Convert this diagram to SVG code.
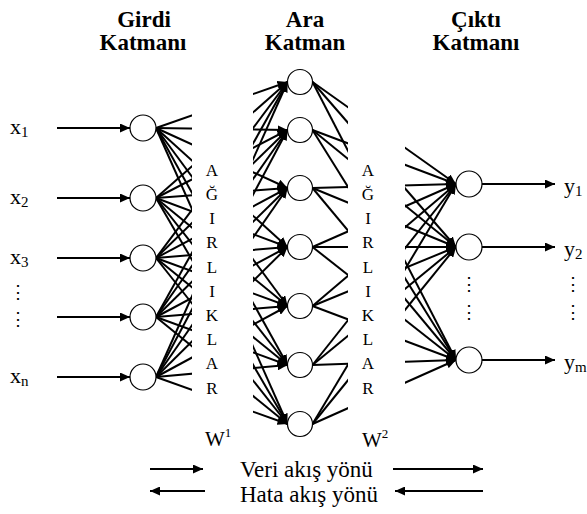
<svg xmlns="http://www.w3.org/2000/svg" width="587" height="514" viewBox="0 0 587 514">
  <style>
    text { font-family: "Liberation Serif", "Times New Roman", serif; fill: #000; }
    .title { font-size: 23px; font-weight: bold; text-anchor: middle; }
    .lbl { font-size: 22px; }
    .sub { font-size: 15px; }
    .w-letter { font-size: 17px; text-anchor: middle; }
    .wlbl { font-size: 21px; }
    .sup { font-size: 13px; }
    .note { font-size: 23px; }
    .dots { font-family: "DejaVu Serif", serif; font-size: 18px; text-anchor: middle; }
    .node { fill: #fff; stroke: #000; stroke-width: 1.2; }
    .wire { stroke: #000; stroke-width: 2; fill: none; marker-end: url(#head); }
    .edge { stroke: #000; stroke-width: 2; fill: none; }
  </style>
  <defs>
    <marker id="head" viewBox="0 0 10 9" refX="10" refY="4.5" markerWidth="10" markerHeight="9" markerUnits="userSpaceOnUse" orient="auto">
      <path d="M0,0 L10,4.5 L0,9 z" fill="#000"/>
    </marker>
    <marker id="head-start" viewBox="0 0 10 9" refX="0" refY="4.5" markerWidth="10" markerHeight="9" markerUnits="userSpaceOnUse" orient="auto">
      <path d="M10,0 L0,4.5 L10,9 z" fill="#000"/>
    </marker>
    <!-- the weight columns hide the middle part of every edge -->
    <clipPath id="cut-w1">
      <rect x="0" y="0" width="192" height="514"/>
      <rect x="253" y="0" width="47" height="514"/>
    </clipPath>
    <clipPath id="cut-w2">
      <rect x="300" y="0" width="48" height="514"/>
      <rect x="405" y="0" width="64" height="514"/>
    </clipPath>
  </defs>

  <rect width="587" height="514" fill="#fff"/>

  <!-- layer titles -->
  <g id="titles">
    <text class="title" x="144" y="27">Girdi</text>
    <text class="title" x="143" y="50">Katmanı</text>
    <text class="title" x="305" y="27">Ara</text>
    <text class="title" x="305" y="50">Katman</text>
    <text class="title" x="476" y="27">Çıktı</text>
    <text class="title" x="476" y="50">Katmanı</text>
  </g>

  <g id="connectors">
    <!-- inputs into the first layer -->
    <g id="input-arrows">
      <line class="wire" x1="57" y1="128" x2="130" y2="128"/>
      <line class="wire" x1="57" y1="198" x2="130" y2="198"/>
      <line class="wire" x1="57" y1="258" x2="130" y2="258"/>
      <line class="wire" x1="57" y1="317" x2="130" y2="317"/>
      <line class="wire" x1="57" y1="377" x2="130" y2="377"/>
    </g>
    <!-- W1: every input node to every hidden node -->
    <g id="weights-1" clip-path="url(#cut-w1)">
      <line class="wire" x1="156" y1="128" x2="287.5" y2="82"/>
      <line class="wire" x1="156" y1="128" x2="287.5" y2="130"/>
      <line class="wire" x1="156" y1="128" x2="287.5" y2="188"/>
      <line class="wire" x1="156" y1="128" x2="287.5" y2="247"/>
      <line class="wire" x1="156" y1="128" x2="287.5" y2="306"/>
      <line class="wire" x1="156" y1="128" x2="287.5" y2="365"/>
      <line class="wire" x1="156" y1="128" x2="287.5" y2="424"/>

      <line class="wire" x1="156" y1="198" x2="287.5" y2="82"/>
      <line class="wire" x1="156" y1="198" x2="287.5" y2="130"/>
      <line class="wire" x1="156" y1="198" x2="287.5" y2="188"/>
      <line class="wire" x1="156" y1="198" x2="287.5" y2="247"/>
      <line class="wire" x1="156" y1="198" x2="287.5" y2="306"/>
      <line class="wire" x1="156" y1="198" x2="287.5" y2="365"/>
      <line class="wire" x1="156" y1="198" x2="287.5" y2="424"/>

      <line class="wire" x1="156" y1="258" x2="287.5" y2="82"/>
      <line class="wire" x1="156" y1="258" x2="287.5" y2="130"/>
      <line class="wire" x1="156" y1="258" x2="287.5" y2="188"/>
      <line class="wire" x1="156" y1="258" x2="287.5" y2="247"/>
      <line class="wire" x1="156" y1="258" x2="287.5" y2="306"/>
      <line class="wire" x1="156" y1="258" x2="287.5" y2="365"/>
      <line class="wire" x1="156" y1="258" x2="287.5" y2="424"/>

      <line class="wire" x1="156" y1="317" x2="287.5" y2="82"/>
      <line class="wire" x1="156" y1="317" x2="287.5" y2="130"/>
      <line class="wire" x1="156" y1="317" x2="287.5" y2="188"/>
      <line class="wire" x1="156" y1="317" x2="287.5" y2="247"/>
      <line class="wire" x1="156" y1="317" x2="287.5" y2="306"/>
      <line class="wire" x1="156" y1="317" x2="287.5" y2="365"/>
      <line class="wire" x1="156" y1="317" x2="287.5" y2="424"/>

      <line class="wire" x1="156" y1="377" x2="287.5" y2="82"/>
      <line class="wire" x1="156" y1="377" x2="287.5" y2="130"/>
      <line class="wire" x1="156" y1="377" x2="287.5" y2="188"/>
      <line class="wire" x1="156" y1="377" x2="287.5" y2="247"/>
      <line class="wire" x1="156" y1="377" x2="287.5" y2="306"/>
      <line class="wire" x1="156" y1="377" x2="287.5" y2="365"/>
      <line class="wire" x1="156" y1="377" x2="287.5" y2="424"/>
    </g>
    <!-- W2: every hidden node to every output node -->
    <g id="weights-2" clip-path="url(#cut-w2)">
      <line class="wire" x1="312.5" y1="82" x2="456" y2="184"/>
      <line class="wire" x1="312.5" y1="82" x2="456" y2="247"/>
      <line class="wire" x1="312.5" y1="82" x2="456" y2="360"/>
      <line class="wire" x1="312.5" y1="130" x2="456" y2="184"/>
      <line class="wire" x1="312.5" y1="130" x2="456" y2="247"/>
      <line class="wire" x1="312.5" y1="130" x2="456" y2="360"/>
      <line class="wire" x1="312.5" y1="188" x2="456" y2="184"/>
      <line class="wire" x1="312.5" y1="188" x2="456" y2="247"/>
      <line class="wire" x1="312.5" y1="188" x2="456" y2="360"/>
      <line class="wire" x1="312.5" y1="247" x2="456" y2="184"/>
      <line class="wire" x1="312.5" y1="247" x2="456" y2="247"/>
      <line class="wire" x1="312.5" y1="247" x2="456" y2="360"/>
      <line class="wire" x1="312.5" y1="306" x2="456" y2="184"/>
      <line class="wire" x1="312.5" y1="306" x2="456" y2="247"/>
      <line class="wire" x1="312.5" y1="306" x2="456" y2="360"/>
      <line class="wire" x1="312.5" y1="365" x2="456" y2="184"/>
      <line class="wire" x1="312.5" y1="365" x2="456" y2="247"/>
      <line class="wire" x1="312.5" y1="365" x2="456" y2="360"/>
      <line class="wire" x1="312.5" y1="424" x2="456" y2="184"/>
      <line class="wire" x1="312.5" y1="424" x2="456" y2="247"/>
      <line class="wire" x1="312.5" y1="424" x2="456" y2="360"/>
    </g>
    <!-- outputs -->
    <g id="output-arrows">
      <line class="wire" x1="482" y1="184" x2="555" y2="184"/>
      <line class="wire" x1="482" y1="247" x2="555" y2="247"/>
      <line class="wire" x1="482" y1="360" x2="555" y2="360"/>
    </g>
  </g>

  <!-- input layer -->
  <g id="in-1"><circle class="node" cx="143" cy="128" r="13"/></g>
  <g id="in-2"><circle class="node" cx="143" cy="198" r="13"/></g>
  <g id="in-3"><circle class="node" cx="143" cy="258" r="13"/></g>
  <g id="in-4"><circle class="node" cx="143" cy="317" r="13"/></g>
  <g id="in-n"><circle class="node" cx="143" cy="377" r="13"/></g>

  <!-- hidden layer -->
  <g id="hid-1"><circle class="node" cx="300" cy="82" r="12.5"/></g>
  <g id="hid-2"><circle class="node" cx="300" cy="130" r="12.5"/></g>
  <g id="hid-3"><circle class="node" cx="300" cy="188" r="12.5"/></g>
  <g id="hid-4"><circle class="node" cx="300" cy="247" r="12.5"/></g>
  <g id="hid-5"><circle class="node" cx="300" cy="306" r="12.5"/></g>
  <g id="hid-6"><circle class="node" cx="300" cy="365" r="12.5"/></g>
  <g id="hid-7"><circle class="node" cx="300" cy="424" r="12.5"/></g>

  <!-- output layer -->
  <g id="out-1"><circle class="node" cx="469" cy="184" r="13"/></g>
  <g id="out-2"><circle class="node" cx="469" cy="247" r="13"/></g>
  <g id="out-m"><circle class="node" cx="469" cy="360" r="13"/></g>

  <!-- input / output labels -->
  <g id="io-labels">
    <text class="lbl" x="10" y="134">x<tspan class="sub" dy="3">1</tspan></text>
    <text class="lbl" x="10" y="204">x<tspan class="sub" dy="3">2</tspan></text>
    <text class="lbl" x="10" y="264">x<tspan class="sub" dy="3">3</tspan></text>
    <text class="lbl" x="10" y="383">x<tspan class="sub" dy="3">n</tspan></text>
    <text class="dots" x="18" y="298">⋮</text>
    <text class="dots" x="18" y="325">⋮</text>

    <text class="lbl" x="564" y="193">y<tspan class="sub" dy="3">1</tspan></text>
    <text class="lbl" x="564" y="256">y<tspan class="sub" dy="3">2</tspan></text>
    <text class="lbl" x="564" y="369">y<tspan class="sub" dy="3">m</tspan></text>
    <text class="dots" x="469" y="290">⋮</text>
    <text class="dots" x="469" y="318">⋮</text>
    <text class="dots" x="573" y="290">⋮</text>
    <text class="dots" x="573" y="318">⋮</text>
  </g>

  <!-- weight columns -->
  <g id="weights-1-label">
    <text class="w-letter" x="212" y="176">A</text>
    <text class="w-letter" x="212" y="200">Ğ</text>
    <text class="w-letter" x="212" y="224">I</text>
    <text class="w-letter" x="212" y="248">R</text>
    <text class="w-letter" x="212" y="273">L</text>
    <text class="w-letter" x="212" y="297">I</text>
    <text class="w-letter" x="212" y="321">K</text>
    <text class="w-letter" x="212" y="345">L</text>
    <text class="w-letter" x="212" y="369">A</text>
    <text class="w-letter" x="212" y="394">R</text>
    <text class="wlbl" x="205" y="446">W<tspan class="sup" dy="-9">1</tspan></text>
  </g>
  <g id="weights-2-label">
    <text class="w-letter" x="368" y="176">A</text>
    <text class="w-letter" x="368" y="200">Ğ</text>
    <text class="w-letter" x="368" y="224">I</text>
    <text class="w-letter" x="368" y="248">R</text>
    <text class="w-letter" x="368" y="273">L</text>
    <text class="w-letter" x="368" y="297">I</text>
    <text class="w-letter" x="368" y="321">K</text>
    <text class="w-letter" x="368" y="345">L</text>
    <text class="w-letter" x="368" y="369">A</text>
    <text class="w-letter" x="368" y="394">R</text>
    <text class="wlbl" x="362" y="447">W<tspan class="sup" dy="-9">2</tspan></text>
  </g>

  <!-- flow legend -->
  <g id="legend">
    <line class="edge" x1="150" y1="469" x2="203" y2="469" marker-end="url(#head)"/>
    <text class="note" x="240" y="477">Veri akış yönü</text>
    <line class="edge" x1="393" y1="469" x2="483" y2="469" marker-end="url(#head)"/>
    <line class="edge" x1="150" y1="491" x2="205" y2="491" marker-start="url(#head-start)"/>
    <text class="note" x="240" y="502">Hata akış yönü</text>
    <line class="edge" x1="395" y1="491" x2="483" y2="491" marker-start="url(#head-start)"/>
  </g>
</svg>
